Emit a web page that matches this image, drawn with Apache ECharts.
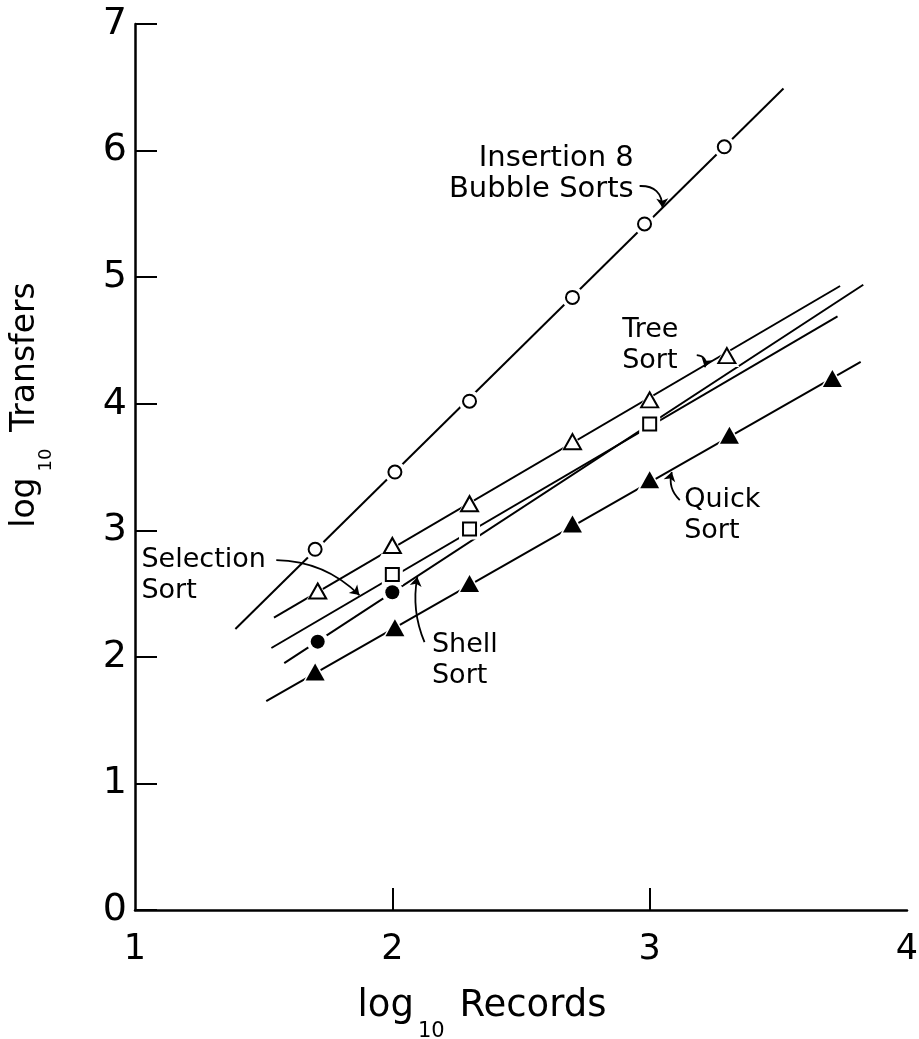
<!DOCTYPE html>
<html>
<head>
<meta charset="utf-8">
<script src="https://cdn.jsdelivr.net/npm/echarts@6/dist/echarts.min.js"></script>
<style>
  html, body { margin: 0; padding: 0; background: #fff; }
  #chart { width: 919px; height: 1039px; }
</style>
</head>
<body>
<div id="chart"></div>
<script>
// measured points, x = log10 records, y = log10 transfers
const insertionX = [1.70, 2.01, 2.30, 2.70, 2.98, 3.29]
const insertionY = [2.85, 3.46, 4.02, 4.84, 5.42, 6.03]
const insertionFitX = [1.39, 3.52]
const insertionFitY = [2.22, 6.49]

const treeX = [1.71, 2.00, 2.30, 2.70, 3.00, 3.30]
const treeY = [2.52, 2.88, 3.21, 3.70, 4.03, 4.38]
const treeFitX = [1.54, 3.74]
const treeFitY = [2.31, 4.93]

const selectionX = [2.00, 2.30, 3.00]
const selectionY = [2.65, 3.01, 3.84]
const selectionFitX = [1.53, 3.73]
const selectionFitY = [2.07, 4.69]

const shellX = [1.71, 2.00]
const shellY = [2.12, 2.51]
const shellFitX = [1.58, 3.83]
const shellFitY = [1.95, 4.94]

const quickX = [1.70, 2.01, 2.30, 2.70, 3.00, 3.31, 3.71]
const quickY = [1.88, 2.23, 2.58, 3.05, 3.40, 3.75, 4.20]
const quickFitX = [1.51, 3.82]
const quickFitY = [1.65, 4.33]

// ticks
const xTickLabels = [1, 2, 3, 4]
const xTickMarks = [2, 3]
const yTickLabels = [0, 1, 2, 3, 4, 5, 6, 7]

// notes and their arrows (data coords)
const noteText = ['Insertion 8\nBubble Sorts', 'Tree\nSort', 'Selection\nSort', 'Shell\nSort', 'Quick\nSort']
const noteX = [2.94, 2.895, 1.027, 2.156, 3.136]
const noteY = [6.06, 4.70, 2.883, 2.21, 3.357]
const noteAlign = ['right', 'left', 'left', 'left', 'left']
const arrowFromX = [2.961, 3.183, 1.549, 2.125, 3.117]
const arrowFromY = [5.72, 4.384, 2.765, 2.117, 3.239]
const arrowToX = [3.05, 3.214, 1.872, 2.097, 3.086]
const arrowToY = [5.55, 4.289, 2.488, 2.630, 3.46]
const arrowBend = [0.5, 0.6, 0.2, 0.15, 0.3]

const zip = (xs, ys) => xs.map((x, i) => [x, ys[i]])
const FONT = 'DejaVu Sans'

function fit(xs, ys) {
  return { type: 'line', data: zip(xs, ys), symbol: 'none', silent: true, z: 2,
    lineStyle: { color: '#000', width: 2 } }
}
function halo(xs, ys, symbol, size) {
  return { type: 'scatter', data: zip(xs, ys), symbol, symbolSize: size, silent: true, z: 3,
    itemStyle: { color: '#fff', opacity: 1 } }
}
function marks(xs, ys, symbol, size, filled) {
  return { type: 'scatter', data: zip(xs, ys), symbol, symbolSize: size, silent: true, z: 4,
    itemStyle: { color: filled ? '#000' : '#fff', borderColor: '#000', borderWidth: filled ? 0 : 2, opacity: 1 } }
}

const chart = echarts.init(document.getElementById('chart'))
chart.setOption({
  backgroundColor: '#fff',
  animation: false,
  grid: { left: 135, right: 12, top: 24, bottom: 129, outerBoundsMode: 'none' },
  xAxis: {
    type: 'value', min: 1, max: 4, interval: 1,
    axisLine: { onZero: false, lineStyle: { color: '#000', width: 2.5 } },
    axisTick: { inside: true, length: 22, customValues: xTickMarks, lineStyle: { color: '#000', width: 2 } },
    axisLabel: { customValues: xTickLabels, color: '#000', fontSize: 35, fontFamily: FONT, margin: 22 },
    splitLine: { show: false },
    name: '{a|log}{s|10}{a| Records}',
    nameLocation: 'middle', nameGap: 78,
    nameTextStyle: {
      padding: [0, 78, 0, 0],
      rich: {
        a: { fontSize: 37, fontFamily: FONT, color: '#000', lineHeight: 44, verticalAlign: 'top' },
        s: { fontSize: 21, fontFamily: FONT, color: '#000', lineHeight: 21, padding: [33, 3, 0, 4], verticalAlign: 'top' }
      }
    }
  },
  yAxis: {
    type: 'value', min: 0, max: 7, interval: 1,
    axisLine: { onZero: false, lineStyle: { color: '#000', width: 2.5 } },
    axisTick: { inside: true, length: 22, lineStyle: { color: '#000', width: 2 } },
    axisLabel: { customValues: yTickLabels, color: '#000', fontSize: 38, fontFamily: FONT, margin: 8 },
    splitLine: { show: false },
    name: '{a|log}{s|10}{a| Transfers}',
    nameLocation: 'middle', nameGap: 86,
    nameTextStyle: {
      padding: [0, 0, 0, 124],
      rich: {
        a: { fontSize: 33, fontFamily: FONT, color: '#000', lineHeight: 40, verticalAlign: 'top' },
        s: { fontSize: 18, fontFamily: FONT, color: '#000', lineHeight: 18, padding: [28, 6, 0, 6], verticalAlign: 'top' }
      }
    }
  },
  series: [
    fit(insertionFitX, insertionFitY),
    fit(treeFitX, treeFitY),
    fit(selectionFitX, selectionFitY),
    fit(shellFitX, shellFitY),
    fit(quickFitX, quickFitY),
    halo(insertionX, insertionY, 'circle', 22),
    halo(treeX, treeY, 'triangle', [25, 23]),
    halo(selectionX, selectionY, 'rect', 21),
    halo(shellX, shellY, 'circle', 22),
    halo(quickX, quickY, 'triangle', [26, 24]),
    marks(insertionX, insertionY, 'circle', 13, false),
    marks(treeX, treeY, 'triangle', [17, 15], false),
    marks(selectionX, selectionY, 'rect', 13, false),
    marks(shellX, shellY, 'circle', 14, true),
    marks(quickX, quickY, 'triangle', [19, 17], true),
    {
      type: 'lines', coordinateSystem: 'cartesian2d', silent: true, z: 5,
      symbol: ['none', 'arrow'], symbolSize: 9,
      lineStyle: { color: '#000', width: 1.8, opacity: 1 },
      data: arrowFromX.map((x, i) => ({
        coords: [[x, arrowFromY[i]], [arrowToX[i], arrowToY[i]]],
        lineStyle: { curveness: arrowBend[i] }
      }))
    },
    {
      type: 'scatter', silent: true, z: 6, symbolSize: 1,
      itemStyle: { color: 'transparent', opacity: 1 },
      data: noteText.map((t, i) => ({
        value: [noteX[i], noteY[i]],
        label: {
          show: true, formatter: t, position: [0, 0],
          align: noteAlign[i], verticalAlign: 'top',
          fontFamily: FONT, fontSize: i === 0 ? 29 : 27, lineHeight: 31, color: '#000', opacity: 1
        }
      }))
    }
  ]
})
</script>
</body>
</html>
